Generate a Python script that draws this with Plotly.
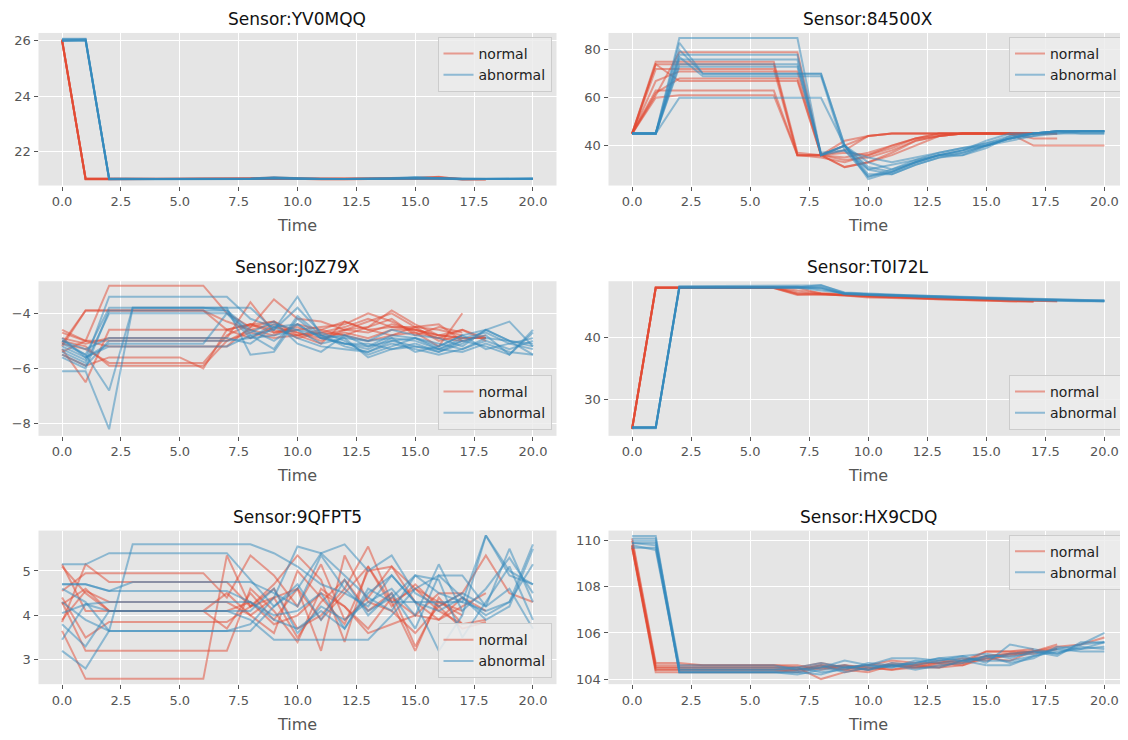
import plotly.graph_objects as go

# ---------------- data ----------------
YV0MQQ_normal = [
    [26.05, 21.0, 21.0, 21.0, 21.0, 21.0, 21.0, 21.0, 21.0, 21.02, 21.02, 21.0, 21.0, 21.0, 21.02, 21.03, 21.06, 21.0],
    [26.0, 21.02, 21.02, 21.0, 21.0, 21.0, 21.0, 21.0, 21.02, 21.03, 21.0, 20.98, 20.98, 21.0, 21.0, 21.02, 21.05, 20.98, 20.98],
    [26.05, 20.98, 20.98, 21.0, 21.0, 21.0, 21.0, 21.0, 21.0, 21.0, 21.0, 21.0, 21.0, 21.0, 21.0, 21.0, 21.02, 21.0],
    [26.02, 21.0, 21.0, 21.0, 21.0, 21.0, 21.0, 21.0, 21.02, 21.05, 21.02, 21.0, 21.0, 21.02, 21.02, 21.03, 21.04, 21.0, 21.0],
    [26.05, 21.0, 21.0, 21.0, 21.0, 21.0, 21.0, 21.0, 21.0, 21.0, 21.0, 21.0, 21.0, 21.0, 21.0, 21.0, 21.0, 21.0],
    [26.0, 21.0, 21.0, 21.0, 21.0, 21.0, 21.0, 21.0, 21.0, 21.02, 21.0, 21.0, 21.0, 21.0, 21.02, 21.02, 21.08, 20.98, 20.98],
]
YV0MQQ_abnormal = [
    [26.05, 26.05, 21.0, 21.0, 21.0, 21.0, 21.0, 21.0, 21.0, 21.05, 21.02, 21.0, 21.0, 21.0, 21.02, 21.05, 21.03, 21.0, 21.0, 21.0, 21.0],
    [26.0, 26.0, 21.0, 21.0, 21.0, 21.0, 21.0, 21.0, 21.02, 21.06, 21.03, 21.0, 21.0, 21.0, 21.03, 21.06, 21.02, 20.98, 21.0, 21.0, 21.0],
    [26.08, 26.08, 20.98, 20.98, 21.0, 21.0, 21.0, 21.0, 21.0, 21.02, 21.0, 21.0, 21.0, 21.0, 21.0, 21.02, 21.0, 21.0, 21.0, 21.0, 21.02],
    [26.02, 26.02, 21.0, 21.0, 21.0, 21.0, 21.0, 21.0, 21.0, 21.03, 21.02, 21.0, 21.0, 21.02, 21.03, 21.04, 21.03, 21.0, 21.0, 21.0, 21.0],
    [26.05, 26.05, 21.02, 21.0, 21.0, 21.0, 21.0, 21.0, 21.0, 21.04, 21.0, 21.0, 21.0, 21.0, 21.0, 21.05, 21.02, 21.0, 21.0, 21.02, 21.02],
    [26.0, 26.05, 21.0, 21.0, 21.0, 21.0, 21.0, 21.0, 21.0, 21.0, 21.0, 21.0, 21.0, 21.0, 21.0, 21.0, 21.0, 21.0, 21.0, 21.0, 21.0],
]

S84500X_normal = [
    [45, 74, 74, 74, 74, 74, 74, 36, 36, 42, 44, 45, 45, 45, 45, 45, 45, 45, 45],
    [45, 75, 75, 75, 75, 75, 75, 37, 36, 31, 33, 37, 42, 44, 45, 45, 45, 45],
    [45, 61, 79, 79, 79, 79, 79, 79, 36, 38, 44, 45, 45, 45, 45, 45, 45, 45],
    [45, 74, 67, 67, 67, 67, 67, 67, 36, 35, 37, 40, 43, 45, 45, 45, 45, 45, 45],
    [45, 63, 63, 63, 63, 63, 63, 36, 35, 33, 36, 39, 43, 45, 45, 45, 45, 45],
    [45, 60, 61, 61, 61, 61, 61, 36, 36, 34, 35, 38, 42, 44, 45, 45, 45, 43, 43],
    [45, 67, 71, 71, 71, 71, 71, 71, 36, 40, 44, 45, 45, 45, 45, 45, 45, 45, 45],
    [45, 72, 72, 72, 72, 72, 72, 36, 36, 31, 33, 36, 40, 44, 45, 45, 45, 45],
    [45, 62, 68, 68, 68, 68, 68, 68, 36, 37, 36, 40, 43, 44, 45, 45, 45, 40, 40, 40, 40],
]
S84500X_abnormal = [
    [45, 45, 85, 85, 85, 85, 85, 85, 36, 40, 33, 30, 33, 36, 38, 41, 43, 45, 46, 46, 46],
    [45, 45, 83, 70, 70, 70, 70, 70, 70, 40, 27, 29, 33, 36, 37, 40, 43, 45, 46, 46, 46],
    [45, 45, 78, 78, 78, 78, 78, 78, 36, 40, 28, 28, 32, 35, 37, 40, 43, 45, 46, 46, 46],
    [45, 45, 76, 76, 76, 76, 76, 76, 36, 38, 30, 32, 34, 37, 39, 40, 43, 44, 45, 46, 46],
    [45, 45, 80, 70, 70, 70, 70, 70, 70, 40, 26, 29, 33, 36, 38, 40, 43, 45, 46, 46, 46],
    [45, 45, 60, 60, 60, 60, 60, 60, 60, 40, 30, 28, 32, 35, 36, 40, 42, 44, 46, 46, 46],
    [45, 45, 74, 74, 74, 74, 74, 74, 37, 38, 35, 33, 35, 37, 39, 41, 44, 45, 46, 45, 45],
    [45, 45, 77, 69, 69, 69, 69, 69, 69, 38, 27, 30, 34, 36, 36, 39, 44, 45, 46, 46, 46],
    [45, 45, 73, 73, 73, 73, 73, 73, 36, 40, 31, 29, 33, 36, 38, 42, 45, 45, 45, 45, 45],
]

J0Z79X_normal = [
    [-5.1, -3.9, -3.9, -3.9, -3.9, -3.9, -3.9, -4.6, -4.4, -4.7, -4.5, -4.8, -4.6, -4.7, -4.4, -4.6, -4.8, -4.9, -4.9],
    [-4.7, -5.0, -3.0, -3.0, -3.0, -3.0, -3.0, -4.0, -4.5, -3.5, -4.2, -4.3, -4.6, -4.3, -4.0, -4.5, -4.6, -4.8],
    [-5.3, -6.5, -4.6, -4.6, -4.6, -4.6, -4.6, -4.6, -4.4, -4.6, -4.8, -5.1, -4.3, -4.6, -4.8, -4.7, -5.2, -4.0],
    [-5.0, -5.2, -5.9, -5.9, -5.9, -5.9, -5.9, -5.0, -4.7, -4.9, -4.8, -4.7, -4.5, -4.2, -4.5, -4.6, -4.8, -4.9, -4.9],
    [-5.4, -5.0, -5.2, -5.2, -5.2, -5.2, -5.2, -5.2, -4.5, -4.3, -4.8, -4.6, -4.8, -5.0, -4.8, -4.5, -4.4, -5.0],
    [-4.9, -5.1, -4.9, -4.9, -4.9, -4.9, -4.9, -4.9, -3.6, -4.7, -4.6, -4.5, -4.4, -4.0, -4.3, -4.7, -4.9, -4.6, -4.9],
    [-5.2, -3.9, -3.9, -3.9, -3.9, -3.9, -3.9, -4.3, -4.6, -4.4, -4.9, -4.7, -4.8, -4.5, -4.2, -4.8, -4.5, -4.7],
    [-5.5, -5.9, -5.6, -5.6, -5.6, -5.6, -6.0, -4.6, -4.9, -4.5, -4.7, -5.0, -4.6, -4.5, -3.9, -4.4, -4.8, -4.6, -5.0],
    [-4.6, -5.0, -5.0, -5.0, -5.0, -5.0, -5.0, -5.0, -4.6, -4.8, -4.4, -4.6, -4.3, -4.6, -4.5, -4.5, -5.0, -4.8],
    [-5.1, -5.3, -5.8, -5.8, -5.8, -5.8, -5.8, -4.8, -4.4, -4.3, -4.7, -4.9, -4.7, -4.9, -4.6, -4.6, -4.9, -5.0, -4.8],
]
J0Z79X_abnormal = [
    [-5.0, -5.5, -6.8, -3.8, -3.8, -3.8, -3.8, -3.8, -5.5, -5.4, -4.2, -4.9, -5.1, -5.3, -4.9, -5.0, -5.3, -5.0, -4.8, -5.5, -4.6],
    [-6.1, -6.1, -8.2, -3.8, -3.8, -3.8, -3.8, -3.8, -3.8, -4.6, -3.4, -4.8, -5.2, -5.4, -5.0, -5.2, -5.4, -5.1, -4.6, -5.0, -5.5],
    [-5.3, -5.7, -3.4, -3.4, -3.4, -3.4, -3.4, -3.4, -4.2, -4.5, -4.4, -4.9, -4.8, -5.2, -5.0, -4.9, -5.3, -4.9, -4.7, -5.1, -5.3],
    [-5.1, -5.5, -3.8, -3.8, -3.8, -3.8, -3.8, -3.9, -4.8, -4.6, -3.8, -4.7, -5.0, -5.5, -5.2, -4.9, -5.1, -5.3, -4.9, -5.0, -5.2],
    [-5.5, -5.9, -5.0, -5.0, -5.0, -5.0, -5.0, -5.0, -4.9, -4.4, -4.6, -5.1, -4.9, -5.6, -5.3, -5.1, -5.4, -5.0, -5.2, -5.5, -4.7],
    [-5.2, -5.6, -5.2, -5.2, -5.2, -5.2, -5.2, -5.2, -4.8, -5.3, -4.1, -4.8, -4.9, -5.0, -4.6, -4.8, -4.9, -5.2, -4.6, -4.3, -5.2],
    [-5.0, -5.3, -4.9, -4.9, -4.9, -4.9, -4.9, -4.9, -5.1, -4.5, -4.9, -5.2, -5.3, -5.4, -5.1, -5.3, -5.5, -5.3, -5.0, -5.3, -5.0],
    [-5.4, -5.8, -4.0, -4.0, -4.0, -4.0, -4.0, -4.0, -4.7, -4.3, -5.1, -5.4, -4.8, -5.0, -4.9, -5.4, -5.2, -4.8, -4.6, -5.0, -5.1],
    [-4.9, -5.6, -5.1, -5.1, -5.1, -5.1, -5.1, -4.0, -4.9, -4.8, -4.6, -4.8, -5.1, -5.2, -4.8, -4.9, -5.2, -4.8, -5.3, -5.1, -4.9],
    [-5.6, -6.0, -3.9, -3.9, -3.9, -3.9, -3.9, -3.9, -4.6, -5.0, -4.4, -4.9, -5.1, -5.1, -5.3, -5.2, -5.3, -5.4, -5.1, -5.4, -5.5],
]

T0I72L_normal = [
    [25.3, 48.0, 48.0, 48.0, 48.0, 48.0, 48.0, 47.0, 47.0, 46.8, 46.6, 46.5, 46.4, 46.2, 46.1, 46.0, 45.9, 45.8, 45.8],
    [25.4, 48.0, 48.0, 48.0, 48.0, 48.0, 48.0, 47.2, 46.9, 46.7, 46.5, 46.4, 46.3, 46.2, 46.0, 45.9, 45.9, 45.8],
    [25.3, 47.9, 47.9, 47.9, 47.9, 47.9, 47.9, 48.0, 47.0, 46.8, 46.7, 46.5, 46.4, 46.3, 46.2, 46.1, 46.0, 45.9, 45.9],
    [25.4, 48.0, 48.0, 48.0, 48.0, 48.0, 47.9, 46.8, 46.9, 46.7, 46.4, 46.3, 46.2, 46.0, 45.9, 45.9, 45.8, 45.8],
    [25.3, 48.0, 48.0, 48.0, 48.0, 48.0, 48.0, 47.5, 47.1, 46.9, 46.6, 46.5, 46.3, 46.2, 46.1, 46.0, 45.9, 45.9, 45.8],
    [25.3, 47.9, 47.9, 47.9, 47.9, 47.9, 47.9, 46.9, 46.9, 46.8, 46.6, 46.4, 46.3, 46.1, 46.0, 45.9, 45.8, 45.7],
]
T0I72L_abnormal = [
    [25.5, 25.5, 48.0, 48.0, 48.0, 48.0, 48.0, 48.0, 48.0, 47.0, 46.9, 46.8, 46.6, 46.5, 46.4, 46.3, 46.2, 46.0, 45.9, 45.9, 45.8],
    [25.6, 25.6, 48.2, 48.2, 48.2, 48.2, 48.2, 48.2, 48.3, 47.2, 47.0, 46.8, 46.7, 46.6, 46.4, 46.3, 46.2, 46.1, 46.0, 46.0, 45.9],
    [25.4, 25.4, 48.0, 48.0, 48.0, 48.0, 48.0, 48.0, 47.5, 47.1, 46.9, 46.7, 46.6, 46.4, 46.3, 46.2, 46.1, 46.0, 45.9, 45.9, 45.8],
    [25.5, 25.5, 48.1, 48.1, 48.1, 48.1, 48.1, 48.1, 47.8, 47.0, 46.8, 46.7, 46.5, 46.5, 46.4, 46.2, 46.1, 46.0, 46.0, 45.9, 45.9],
    [25.6, 25.6, 47.9, 47.9, 47.9, 47.9, 47.9, 48.0, 48.0, 46.9, 46.8, 46.7, 46.6, 46.4, 46.3, 46.2, 46.0, 45.9, 45.9, 45.8, 45.8],
    [25.5, 25.5, 48.0, 48.0, 48.0, 48.0, 48.0, 48.0, 48.4, 47.1, 46.9, 46.8, 46.6, 46.5, 46.4, 46.3, 46.2, 46.1, 46.0, 45.9, 45.9],
]

S9QFPT5_normal = [
    [5.15, 4.1, 4.1, 4.1, 4.1, 4.1, 4.1, 4.5, 4.0, 3.6, 5.0, 4.4, 3.8, 5.0, 5.1, 4.6, 4.1, 3.8, 3.9],
    [3.85, 5.15, 4.75, 4.75, 4.75, 4.75, 4.75, 4.75, 4.2, 4.4, 3.5, 4.3, 4.8, 4.1, 4.5, 3.3, 4.3, 4.0],
    [4.55, 4.95, 4.95, 4.95, 4.95, 4.95, 4.95, 4.4, 5.35, 4.9, 4.2, 5.15, 3.9, 4.4, 5.1, 4.3, 3.9, 4.2, 4.5],
    [3.65, 2.57, 2.57, 2.57, 2.57, 2.57, 2.57, 5.35, 4.2, 4.6, 3.7, 4.0, 4.6, 5.55, 4.3, 3.2, 4.4, 3.8],
    [4.3, 3.2, 3.2, 3.2, 3.2, 3.2, 3.2, 3.2, 4.6, 4.1, 3.4, 4.6, 4.2, 3.6, 3.8, 4.0, 3.9, 4.4, 4.1],
    [3.9, 4.55, 4.3, 4.3, 4.3, 4.3, 4.3, 4.3, 4.0, 4.4, 4.6, 3.2, 5.35, 4.3, 4.1, 3.6, 4.2, 4.5],
    [4.4, 3.5, 3.85, 3.85, 3.85, 3.85, 3.85, 3.85, 4.2, 4.7, 5.35, 4.8, 3.4, 5.1, 4.2, 4.7, 4.2, 3.7, 3.85],
    [5.1, 4.5, 4.1, 4.1, 4.1, 4.1, 4.1, 3.7, 4.5, 3.9, 4.6, 3.9, 4.5, 5.1, 4.3, 4.6, 4.3, 4.1],
    [4.25, 4.6, 4.1, 4.1, 4.1, 4.1, 4.1, 4.1, 4.3, 3.8, 4.0, 4.5, 4.2, 3.7, 4.4, 4.0, 4.5, 4.5, 5.35, 4.5, 4.3],
]
S9QFPT5_abnormal = [
    [5.15, 5.15, 5.4, 5.4, 5.4, 5.4, 5.4, 5.4, 4.8, 4.2, 4.6, 5.4, 4.9, 4.4, 4.1, 4.9, 4.5, 4.3, 5.8, 5.0, 4.7],
    [3.2, 2.8, 3.65, 5.6, 5.6, 5.6, 5.6, 5.6, 5.6, 5.4, 5.1, 4.7, 4.5, 4.2, 4.9, 4.3, 4.1, 4.4, 4.0, 4.3, 5.6],
    [4.7, 4.7, 4.55, 4.55, 4.55, 4.55, 4.55, 4.55, 4.3, 3.9, 3.7, 4.1, 3.7, 4.5, 4.9, 4.3, 3.2, 4.0, 5.8, 4.9, 4.7],
    [3.45, 4.25, 4.1, 4.1, 4.1, 4.1, 4.1, 4.1, 3.9, 3.45, 3.45, 3.45, 3.45, 3.45, 4.0, 4.6, 4.9, 4.9, 4.2, 5.5, 4.3],
    [4.3, 3.9, 3.65, 3.65, 3.65, 3.65, 3.65, 3.65, 3.8, 4.4, 5.55, 5.4, 5.6, 5.0, 5.35, 4.5, 4.2, 4.5, 4.2, 4.6, 3.7],
    [4.7, 4.7, 4.55, 4.75, 4.75, 4.75, 4.75, 4.75, 4.75, 4.5, 4.2, 5.35, 4.6, 4.1, 4.4, 4.9, 4.8, 3.5, 4.3, 5.1, 3.9],
    [4.05, 4.25, 4.3, 4.3, 4.3, 4.3, 4.3, 4.3, 4.3, 4.0, 4.1, 4.5, 3.7, 4.6, 4.3, 4.3, 4.3, 4.3, 4.1, 4.3, 5.15],
    [3.8, 3.3, 4.1, 4.1, 4.1, 4.1, 4.1, 4.1, 4.1, 4.6, 3.6, 4.2, 3.9, 4.3, 4.6, 4.0, 5.15, 4.1, 4.6, 5.3, 4.5],
    [4.6, 4.3, 3.65, 3.65, 3.65, 3.65, 3.65, 3.65, 3.65, 4.2, 4.7, 3.9, 4.8, 4.0, 4.5, 3.7, 4.9, 4.4, 3.9, 4.2, 5.5],
]

HX9CDQ_normal = [
    [109.8, 104.4, 104.4, 104.4, 104.4, 104.4, 104.4, 104.4, 104.6, 104.4, 104.3, 104.6, 104.5, 104.6, 104.7, 104.9, 105.0, 105.2, 105.3],
    [110.1, 104.7, 104.7, 104.6, 104.6, 104.6, 104.6, 104.5, 104.0, 104.3, 104.5, 104.4, 104.6, 104.8, 104.7, 105.2, 105.2, 105.3],
    [109.7, 104.3, 104.3, 104.3, 104.3, 104.3, 104.3, 104.4, 104.5, 104.6, 104.4, 104.7, 104.6, 104.5, 104.6, 105.0, 105.1, 105.1, 105.3],
    [109.8, 104.5, 104.5, 104.5, 104.5, 104.5, 104.5, 104.5, 104.7, 104.5, 104.6, 104.8, 104.7, 104.7, 104.9, 104.8, 105.1, 105.2],
    [110.0, 104.6, 104.6, 104.6, 104.6, 104.6, 104.6, 104.6, 104.4, 104.6, 104.5, 104.4, 104.5, 104.7, 104.6, 104.9, 104.8, 105.2, 105.5],
    [109.7, 104.4, 104.4, 104.4, 104.4, 104.4, 104.4, 104.3, 104.5, 104.4, 104.6, 104.6, 104.5, 104.5, 104.8, 105.2, 105.2, 105.2],
    [109.8, 104.5, 104.5, 104.5, 104.5, 104.5, 104.5, 104.4, 104.6, 104.5, 104.4, 104.6, 104.6, 104.7, 104.8, 105.0, 105.1, 105.2, 105.4, 105.5, 105.8],
]
HX9CDQ_abnormal = [
    [109.9, 109.9, 104.3, 104.3, 104.3, 104.3, 104.3, 104.3, 104.5, 104.6, 104.4, 104.7, 104.6, 104.8, 104.9, 104.8, 104.8, 105.0, 105.2, 105.3, 105.6],
    [110.2, 110.2, 104.4, 104.4, 104.4, 104.4, 104.4, 104.4, 104.5, 104.8, 104.6, 104.5, 104.7, 104.9, 105.0, 104.7, 105.5, 105.3, 105.1, 105.5, 106.0],
    [109.7, 109.7, 104.5, 104.5, 104.5, 104.5, 104.5, 104.5, 104.3, 104.4, 104.7, 104.6, 104.4, 104.6, 104.7, 105.0, 105.0, 105.1, 105.3, 105.2, 105.2],
    [109.9, 109.8, 104.3, 104.3, 104.3, 104.3, 104.3, 104.2, 104.4, 104.5, 104.6, 104.9, 104.9, 104.8, 105.0, 105.1, 104.9, 105.2, 105.0, 105.6, 105.6],
    [110.0, 110.0, 104.6, 104.6, 104.6, 104.6, 104.6, 104.4, 104.6, 104.3, 104.5, 104.6, 104.5, 104.5, 104.8, 105.0, 104.7, 104.9, 105.4, 105.3, 105.4],
    [109.8, 109.6, 104.4, 104.4, 104.4, 104.4, 104.4, 104.5, 104.7, 104.5, 104.4, 104.6, 104.7, 104.9, 104.8, 104.9, 105.1, 105.2, 105.1, 105.4, 105.3],
    [110.1, 110.1, 104.3, 104.3, 104.3, 104.3, 104.3, 104.3, 104.2, 104.5, 104.6, 104.5, 104.8, 104.7, 104.8, 104.6, 104.6, 105.0, 105.3, 105.5, 105.6],
]

sensor_names = ["YV0MQQ", "84500X", "J0Z79X", "T0I72L", "9QFPT5", "HX9CDQ"]
normal_sets = [YV0MQQ_normal, S84500X_normal, J0Z79X_normal, T0I72L_normal, S9QFPT5_normal, HX9CDQ_normal]
abnormal_sets = [YV0MQQ_abnormal, S84500X_abnormal, J0Z79X_abnormal, T0I72L_abnormal, S9QFPT5_abnormal, HX9CDQ_abnormal]
class_labels = ["normal", "abnormal"]
x_ticks = [0, 2.5, 5, 7.5, 10, 12.5, 15, 17.5, 20]
x_tick_text = ["0.0", "2.5", "5.0", "7.5", "10.0", "12.5", "15.0", "17.5", "20.0"]

# ---------------- layout / style ----------------
# the page body has an 8px margin, so the figure is drawn 8px lower/right;
# positions below are given in screen pixels and converted.
OFF = 8
W, H = 1120, 732
RED = "#E24A33"
BLUE = "#348ABD"
FONT = "DejaVu Sans"


def px_x(sx):
    return (sx - OFF) / W


def px_y(sy):
    return 1 - (sy - OFF) / H


col_px = [(38.5, 556.5), (608.5, 1128.0)]
row_px = [(33, 186), (282, 437), (532, 686)]
y_ranges = [(20.76, 26.29), (23.3, 87.1), (-8.44, -2.84), (24.2, 49.0), (2.45, 5.91), (103.78, 110.44)]
y_tickvals = [[22, 24, 26], [40, 60, 80], [-8, -6, -4], [30, 40], [3, 4, 5], [104, 106, 108, 110]]
y_ticktext = [["22", "24", "26"], ["40", "60", "80"], ["\u22128", "\u22126", "\u22124"],
              ["30", "40"], ["3", "4", "5"], ["104", "106", "108", "110"]]
legend_pos = ["top", "top", "bottom", "bottom", "bottom", "top"]

fig = go.Figure()
annotations = []
layout = {}

for i in range(6):
    r, c = divmod(i, 2)
    ax = "" if i == 0 else str(i + 1)
    lg = "legend" if i == 0 else f"legend{i + 1}"
    x0, x1 = col_px[c]
    y0, y1 = row_px[r]
    xd = [max(0.0, px_x(x0)), min(1.0, px_x(x1))]
    yd = [px_y(y1), px_y(y0)]

    for cls, runs, color in ((0, normal_sets[i], RED), (1, abnormal_sets[i], BLUE)):
        for k, run in enumerate(runs):
            fig.add_trace(go.Scatter(
                x=list(range(len(run))), y=run, mode="lines",
                line=dict(color=color, width=2), opacity=0.5,
                name=class_labels[cls], legendgroup=f"{lg}-{cls}",
                showlegend=(k == 0), legend=lg,
                xaxis="x" + ax, yaxis="y" + ax, hoverinfo="skip",
            ))

    common = dict(showgrid=True, gridcolor="white", gridwidth=1, zeroline=False,
                  ticks="outside", ticklen=4, tickcolor="#555555", showline=False,
                  tickfont=dict(family=FONT, size=13, color="#555555"))
    layout["xaxis" + ax] = dict(domain=xd, range=[-1, 21], tickvals=x_ticks, ticktext=x_tick_text,
                                anchor="y" + ax, **common)
    layout["yaxis" + ax] = dict(domain=yd, range=list(y_ranges[i]), tickvals=y_tickvals[i],
                                ticktext=y_ticktext[i], anchor="x" + ax, **common)

    cx = (px_x(x0) + px_x(x1)) / 2
    annotations.append(dict(text="Sensor:" + sensor_names[i], xref="paper", yref="paper",
                            x=cx, y=px_y(y0 - 14), xanchor="center", yanchor="middle",
                            showarrow=False, font=dict(family=FONT, size=17, color="#111111")))
    annotations.append(dict(text="Time", xref="paper", yref="paper",
                            x=cx, y=px_y(y1 + 40), xanchor="center", yanchor="middle",
                            showarrow=False, font=dict(family=FONT, size=16, color="#555555")))

    if legend_pos[i] == "top":
        ly, lya = px_y(y0 + 4), "top"
    else:
        ly, lya = px_y(y1 - 6), "bottom"
    layout[lg] = dict(x=px_x(x1 - 5), y=ly, xanchor="right", yanchor=lya,
                      bgcolor="rgba(236,236,236,0.85)", bordercolor="#CCCCCC", borderwidth=1,
                      font=dict(family=FONT, size=14, color="#222222"),
                      tracegroupgap=0, itemwidth=30)

fig.update_layout(
    width=W, height=H, margin=dict(l=0, r=0, t=0, b=0),
    paper_bgcolor="white", plot_bgcolor="#E5E5E5",
    font=dict(family=FONT, color="#555555"),
    annotations=annotations, showlegend=True,
    **layout,
)

fig.write_html("out.html")
